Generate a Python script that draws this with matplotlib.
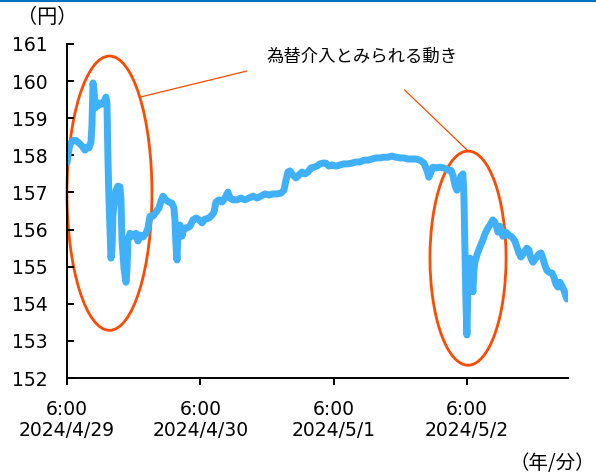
import matplotlib
matplotlib.use('Agg')
import matplotlib.pyplot as plt
from matplotlib.patches import Ellipse
from matplotlib.lines import Line2D

plt.rcParams['font.family'] = ['DejaVu Sans', 'Noto Sans CJK JP']

# hours since 2024/4/29 6:00 and USD/JPY rate
hours = [0.0, 0.18, 0.54, 1.08, 1.62, 2.16, 2.7, 3.24, 3.6, 3.96, 4.32, 4.5, 4.68, 4.86, 5.04,
         5.22, 5.58, 5.94, 6.3, 6.66, 7.02, 7.2, 7.38, 7.56, 7.74, 7.92, 8.1, 8.28, 8.46, 8.82,
         9.18, 9.54, 9.72, 9.9, 10.26, 10.62, 10.8, 10.98, 11.34, 11.88, 12.42, 12.78, 13.14,
         13.68, 14.22, 14.58, 14.94, 15.48, 16.02, 16.56, 16.92, 17.28, 17.82, 18.36, 18.9,
         19.26, 19.44, 19.62, 19.8, 19.98, 20.34, 20.7, 21.06, 21.6, 22.14, 22.68, 23.22, 23.76,
         24.3, 24.84, 25.56, 26.1, 26.46, 26.82, 27.36, 27.9, 28.44, 28.98, 29.34, 29.88, 30.6,
         31.32, 32.04, 32.76, 33.48, 34.2, 34.92, 35.64, 36.36, 37.08, 37.8, 38.52, 39.06,
         39.42, 39.78, 40.14, 40.68, 41.22, 41.76, 42.3, 42.84, 43.38, 43.92, 44.46, 45.0,
         45.54, 46.08, 46.62, 47.16, 47.7, 48.42, 49.14, 49.86, 50.58, 51.3, 52.02, 52.74,
         53.46, 54.18, 54.9, 55.62, 56.34, 57.06, 57.78, 58.5, 59.22, 59.94, 60.66, 61.38,
         62.1, 62.82, 63.54, 64.26, 64.8, 65.16, 65.52, 65.88, 66.42, 67.14, 67.86, 68.58,
         69.12, 69.48, 69.84, 70.2, 70.56, 70.92, 71.28, 71.46, 71.64, 71.82, 72.0, 72.18,
         72.36, 72.54, 72.72, 73.08, 73.26, 73.44, 73.8, 74.34, 74.88, 75.24, 75.78, 76.14,
         76.68, 77.04, 77.4, 77.58, 77.94, 78.48, 79.02, 79.56, 80.1, 80.64, 81.0, 81.36,
         81.72, 82.26, 82.8, 83.16, 83.52, 83.88, 84.42, 84.96, 85.32, 85.68, 86.04, 86.4,
         86.76, 87.3, 87.66, 88.02, 88.38, 88.74, 89.1, 89.46, 89.82, 90.0]
rate = [157.8, 158.0, 158.3, 158.4, 158.4, 158.33, 158.25, 158.14, 158.22, 158.2, 158.36, 158.82,
        159.95, 159.76, 159.27, 159.44, 159.33, 159.41, 159.38, 159.44, 159.57, 159.38, 157.87,
        156.8, 155.99, 155.23, 155.45, 156.4, 156.66, 157.06, 157.17, 157.15, 156.8, 155.72,
        154.96, 154.58, 154.9, 155.72, 155.9, 155.82, 155.9, 155.69, 155.85, 155.8, 155.9,
        156.04, 156.36, 156.36, 156.47, 156.58, 156.77, 156.9, 156.8, 156.74, 156.71, 156.58,
        156.26, 155.58, 155.18, 155.93, 156.12, 155.82, 156.04, 156.04, 156.09, 156.26, 156.31,
        156.26, 156.18, 156.28, 156.31, 156.39, 156.47, 156.74, 156.8, 156.74, 156.85, 157.01,
        156.85, 156.8, 156.8, 156.85, 156.8, 156.85, 156.9, 156.85, 156.9, 156.96, 156.93,
        156.96, 156.96, 156.98, 157.06, 157.33, 157.55, 157.58, 157.47, 157.39, 157.47, 157.55,
        157.5, 157.55, 157.66, 157.68, 157.71, 157.77, 157.79, 157.79, 157.71, 157.74, 157.71,
        157.74, 157.77, 157.77, 157.79, 157.82, 157.82, 157.87, 157.87, 157.9, 157.93, 157.93,
        157.95, 157.95, 157.98, 157.95, 157.93, 157.93, 157.9, 157.9, 157.9, 157.87, 157.79,
        157.6, 157.41, 157.55, 157.68, 157.66, 157.68, 157.66, 157.6, 157.6, 157.47, 157.2,
        157.06, 157.28, 157.44, 157.5, 156.93, 155.45, 154.1, 153.16, 154.37, 154.9, 155.23,
        154.77, 154.32, 154.9, 155.12, 155.31, 155.53, 155.72, 155.88, 156.04, 156.12, 156.26,
        156.2, 156.04, 155.93, 156.09, 155.82, 155.93, 155.85, 155.8, 155.69, 155.53, 155.37,
        155.26, 155.37, 155.5, 155.45, 155.23, 155.12, 155.23, 155.34, 155.37, 155.23, 155.04,
        154.9, 154.85, 154.83, 154.72, 154.53, 154.45, 154.58, 154.48, 154.37, 154.2, 154.13]

tick_hours = [0, 24, 48, 72]
tick_labels = ['6:00\n2024/4/29', '6:00\n2024/4/30', '6:00\n2024/5/1', '6:00\n2024/5/2']
y_ticks = [152, 153, 154, 155, 156, 157, 158, 159, 160, 161]

fig = plt.figure(figsize=(5.96, 4.74), dpi=100)
ax = fig.add_axes([0.1124, 0.2025, 0.8406, 0.7047])

ax.plot(hours, rate, color='#40B0F8', lw=5, solid_joinstyle='round', solid_capstyle='round')

# circled intervention moves
ax.add_patch(Ellipse((7.65, 156.98), 15.3, 7.39, fill=False, ec='#FF4B00', lw=2, clip_on=False))
ax.add_patch(Ellipse((72.2, 155.23), 13.7, 5.77, fill=False, ec='#FF4B00', lw=2, clip_on=False))
ax.plot([13.45, 32.34], [159.58, 160.27], color='#FF4B00', lw=0.9, clip_on=False)
ax.plot([60.8, 72.2], [159.76, 158.12], color='#FF4B00', lw=0.9, clip_on=False)
ax.text(53.1, 160.65, '為替介入とみられる動き', ha='center', va='center', fontsize=12.5,
        family=['Noto Sans CJK JP'])

ax.set_xlim(0, 90.2)
ax.set_ylim(152, 161)
ax.set_yticks(y_ticks)
ax.set_xticks(tick_hours)
ax.set_xticklabels(tick_labels, fontsize=13.5, linespacing=1.1)
ax.tick_params(axis='y', direction='in', length=5, width=1.4, pad=14, labelsize=13.5)
ax.tick_params(axis='x', direction='out', length=5, width=1.4, pad=11)

for s in ['top', 'right']:
    ax.spines[s].set_visible(False)
for s in ['left', 'bottom']:
    ax.spines[s].set_linewidth(1.4)

fig.text(0.028, 0.963, '（円）', fontsize=14.5, va='center', family=['Noto Sans CJK JP'])
fig.text(0.998, 0.022, '（年/分）', fontsize=14, va='center', ha='right',
         family=['Noto Sans CJK JP'])
fig.add_artist(Line2D([0, 1], [0.998, 0.998], color='#0070C0', lw=1.5))

plt.savefig('out.png', dpi=100)
